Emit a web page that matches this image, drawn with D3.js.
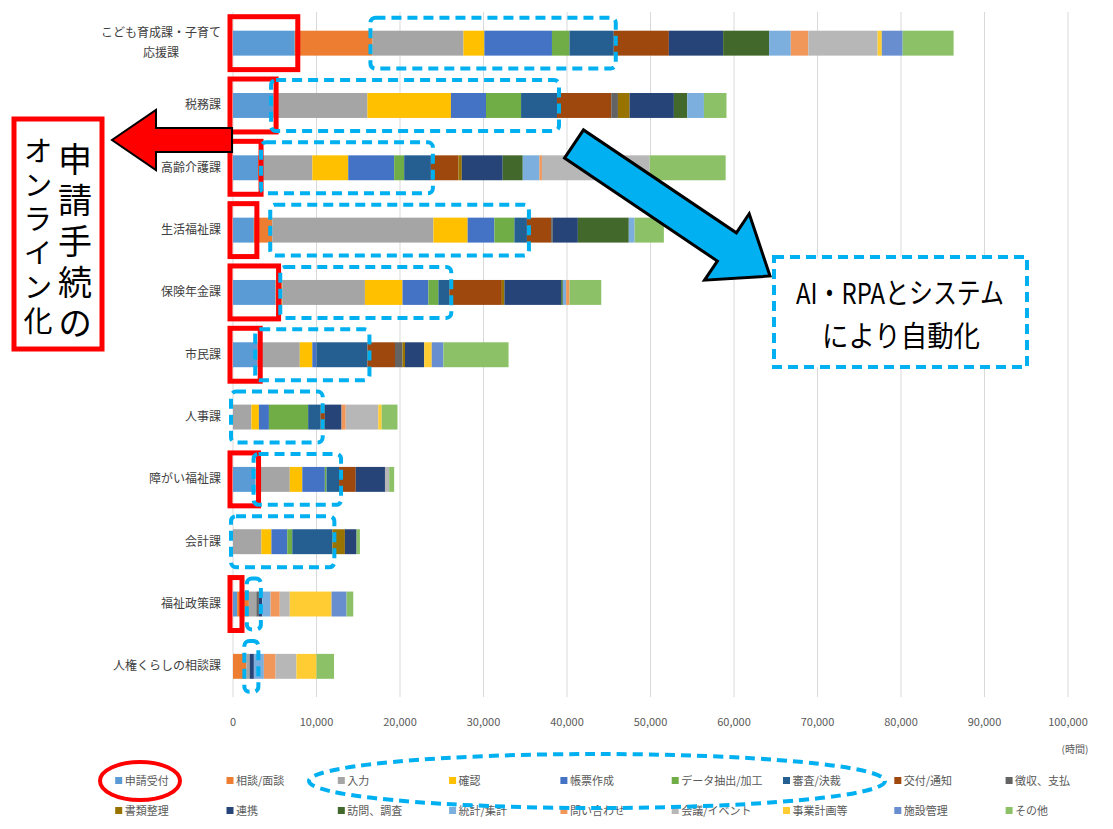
<!DOCTYPE html>
<html lang="ja">
  <head>
    <meta charset="UTF-8" />
    <title>業務時間</title>
    <script src="https://d3js.org/d3.v7.min.js"></script>
    <style>
      body { margin: 0; background: #fff; }
      text { font-family: "Noto Sans CJK JP", "Noto Sans", sans-serif; }
    </style>
  </head>
  <body>
    <svg width="1113" height="829"></svg>
    <script>
      // 課（上から順）
      var categories = ['こども育成課・子育て応援課', '税務課', '高齢介護課', '生活福祉課', '保険年金課', '市民課',
        '人事課', '障がい福祉課', '会計課', '福祉政策課', '人権くらしの相談課']

      var seriesNames = ['申請受付', '相談/面談', '入力', '確認', '帳票作成', 'データ抽出/加工', '審査/決裁', '交付/通知', '徴収、支払',
        '書類整理', '連携', '訪問、調査', '統計/集計', '問い合わせ', '会議/イベント', '事業計画等', '施設管理', 'その他']

      // 時間（各業務、課の順）
      var shinsei   = [7400, 4800, 3000, 2500, 5100, 2900, 0, 2700, 0, 500, 0]
      var soudan    = [9300, 0, 600, 2200, 800, 0, 0, 0, 0, 1400, 1600]
      var nyuryoku  = [10900, 11300, 5900, 19300, 9900, 5100, 2200, 4100, 3400, 900, 400]
      var kakunin   = [2500, 10000, 4300, 4100, 4500, 1500, 900, 1500, 1200, 0, 0]
      var chohyo    = [8100, 4200, 5500, 3200, 3100, 500, 1200, 2700, 1900, 0, 0]
      var data      = [2100, 4200, 1200, 2400, 1200, 0, 4700, 200, 600, 0, 0]
      var shinsa    = [5300, 4300, 3200, 1500, 1300, 6100, 1500, 1500, 4800, 0, 0]
      var kofu      = [6600, 6500, 3300, 2900, 6300, 3300, 500, 2000, 0, 0, 0]
      var choshu    = [0, 800, 0, 200, 0, 900, 0, 0, 0, 300, 0]
      var shorui    = [0, 1400, 400, 0, 300, 300, 0, 0, 1500, 0, 0]
      var renkei    = [6500, 5300, 4900, 3000, 6800, 2300, 2000, 3500, 1400, 400, 500]
      var homon     = [5500, 1600, 2400, 6100, 200, 0, 0, 0, 0, 0, 0]
      var tokei     = [2600, 2000, 2000, 700, 400, 0, 0, 0, 0, 1000, 1200]
      var toiawase  = [2100, 0, 300, 0, 400, 0, 500, 0, 0, 1100, 1400]
      var kaigi     = [8300, 0, 12900, 0, 0, 0, 3900, 500, 0, 1200, 2500]
      var jigyo     = [500, 0, 0, 0, 0, 900, 400, 0, 0, 5000, 2400]
      var shisetsu  = [2500, 0, 0, 0, 0, 1400, 0, 0, 0, 1800, 0]
      var sonota    = [6100, 2700, 9100, 3500, 3800, 7800, 1900, 600, 400, 800, 2100]

      var seriesValues = [shinsei, soudan, nyuryoku, kakunin, chohyo, data, shinsa, kofu, choshu,
        shorui, renkei, homon, tokei, toiawase, kaigi, jigyo, shisetsu, sonota]

      var xTicks = d3.range(0, 100001, 10000)

      var colors = ['#5B9BD5', '#ED7D31', '#A5A5A5', '#FFC000', '#4472C4', '#70AD47', '#255E91', '#9E480E', '#636363',
        '#997300', '#264478', '#43682B', '#7CAFDD', '#F1975A', '#B7B7B7', '#FFCD33', '#698ED0', '#8CC168']

      var svg = d3.select('svg')
      svg.append('rect').attr('width', 1113).attr('height', 829).attr('fill', '#fff')

      var x = d3.scaleLinear().domain([0, 100000]).range([233, 1068])
      var y = d3.scaleBand().domain(categories).range([12, 697.5]).paddingInner(0.6).paddingOuter(0.3)

      // 表を組み立てる
      var table = categories.map(function(c, i) {
        var row = { cat: c }
        seriesNames.forEach(function(s, j) { row[s] = seriesValues[j][i] })
        return row
      })
      var stacked = d3.stack().keys(seriesNames)(table)

      // グリッド線
      svg.append('g').selectAll('line').data(xTicks).enter().append('line')
        .attr('x1', function(d) { return x(d) }).attr('x2', function(d) { return x(d) })
        .attr('y1', 12).attr('y2', 697)
        .attr('stroke', '#d9d9d9').attr('stroke-width', 1)

      // 棒
      svg.append('g').selectAll('g').data(stacked).enter().append('g')
        .attr('fill', function(d, i) { return colors[i] })
        .selectAll('rect').data(function(d) { return d }).enter().append('rect')
        .attr('x', function(d) { return x(d[0]) })
        .attr('y', function(d) { return y(d.data.cat) })
        .attr('width', function(d) { return x(d[1]) - x(d[0]) })
        .attr('height', y.bandwidth())

      // x 軸ラベル
      svg.append('g').selectAll('text').data(xTicks).enter().append('text')
        .attr('x', function(d) { return x(d) }).attr('y', 726)
        .attr('text-anchor', 'middle').attr('font-size', 11).attr('fill', '#595959')
        .text(function(d) { return d3.format(',')(d) })
      svg.append('text').attr('x', 1075).attr('y', 753).attr('text-anchor', 'middle')
        .attr('font-size', 10).attr('fill', '#595959').text('(時間)')

      // カテゴリラベル
      var labG = svg.append('g').attr('font-size', 12).attr('fill', '#404040')
      categories.forEach(function(c, i) {
        var cy = y(c) + y.bandwidth() / 2
        if (i === 0) {
          var t1 = labG.append('text').attr('x', 221).attr('y', cy - 6).attr('text-anchor', 'end').text('こども育成課・子育て')
          var w = t1.node().getComputedTextLength()
          labG.append('text').attr('x', 221 - w / 2).attr('y', cy + 14).attr('text-anchor', 'middle').text('応援課')
        } else {
          labG.append('text').attr('x', 221).attr('y', cy + 4).attr('text-anchor', 'end').text(c)
        }
      })

      // 凡例
      var leg = svg.append('g').attr('font-size', 11).attr('fill', '#595959')
      seriesNames.forEach(function(s, i) {
        var lx = 118.7 + (i % 9) * 111.3
        var ly = i < 9 ? 781 : 811
        leg.append('rect').attr('x', lx - 3.5).attr('y', ly - 4).attr('width', 7).attr('height', 7).attr('fill', colors[i])
        leg.append('text').attr('x', lx + 6).attr('y', ly + 4).text(s)
      })

      // 注記：申請受付（赤枠）
      var ann = svg.append('g').attr('fill', 'none')
      categories.forEach(function(c, i) {
        var top = y(c) - 14
        var h = y.bandwidth() + 28
        if (shinsei[i] > 0) {
          var x0 = x(0) - 3
          var x1 = Math.max(x(shinsei[i]) + 3, x0 + 12)
          ann.append('rect').attr('x', x0).attr('y', top).attr('width', x1 - x0).attr('height', h)
            .attr('stroke', '#ff0000').attr('stroke-width', 5)
        }
        // 入力〜審査/決裁（青破線）
        var s0 = soudan[i] + shinsei[i]
        var s1 = s0 + nyuryoku[i] + kakunin[i] + chohyo[i] + data[i] + shinsa[i]
        var bx0 = x(s0) - 2
        var bx1 = Math.max(x(s1) + 2, bx0 + 14)
        ann.append('rect').attr('x', bx0).attr('y', top + 1).attr('width', bx1 - bx0).attr('height', h - 2)
          .attr('rx', 5).attr('stroke', '#00B0F0').attr('stroke-width', 4).attr('stroke-dasharray', '10,6')
      })

      // 赤矢印
      svg.append('polygon')
        .attr('points', '232,128 156,128 156,110 112,140 156,170 156,152 232,152')
        .attr('fill', '#ff0000').attr('stroke', '#000').attr('stroke-width', 2)

      // 申請手続のオンライン化（縦書き）
      svg.append('rect').attr('x', 14).attr('y', 119).attr('width', 88).attr('height', 230)
        .attr('fill', '#fff').attr('stroke', '#ff0000').attr('stroke-width', 5)
      svg.append('text').attr('x', 75).attr('y', 142).style('writing-mode', 'vertical-rl')
        .attr('font-size', 34).attr('letter-spacing', 7).attr('fill', '#000').text('申請手続の')
      svg.append('text').attr('x', 38).attr('y', 136).style('writing-mode', 'vertical-rl')
        .attr('font-size', 29).attr('letter-spacing', 5).attr('fill', '#000').text('オンライン化')

      // 青矢印
      var S = [574, 144], T = [770, 276]
      var dx = T[0] - S[0], dy = T[1] - S[1], len = Math.hypot(dx, dy)
      var ux = dx / len, uy = dy / len, nx = -uy, ny = ux
      var H = [T[0] - ux * 52, T[1] - uy * 52]
      var pts = [
        [S[0] + nx * 17, S[1] + ny * 17], [H[0] + nx * 17, H[1] + ny * 17], [H[0] + nx * 40, H[1] + ny * 40],
        T, [H[0] - nx * 40, H[1] - ny * 40], [H[0] - nx * 17, H[1] - ny * 17], [S[0] - nx * 17, S[1] - ny * 17]
      ]
      svg.append('polygon').attr('points', pts.map(function(p) { return p.join(',') }).join(' '))
        .attr('fill', '#00B0F0').attr('stroke', '#000').attr('stroke-width', 3)

      // AI・RPA 注記
      svg.append('rect').attr('x', 774).attr('y', 257).attr('width', 253).attr('height', 110)
        .attr('fill', '#fff').attr('stroke', '#00B0F0').attr('stroke-width', 4).attr('stroke-dasharray', '10,6')
      svg.append('text').attr('x', 900).attr('y', 304).attr('text-anchor', 'middle').attr('font-size', 29)
        .attr('textLength', 208).attr('lengthAdjust', 'spacingAndGlyphs')
        .attr('fill', '#000').text('AI・RPAとシステム')
      svg.append('text').attr('x', 901).attr('y', 347).attr('text-anchor', 'middle').attr('font-size', 29)
        .attr('textLength', 158).attr('lengthAdjust', 'spacingAndGlyphs')
        .attr('fill', '#000').text('により自動化')

      // 凡例の囲み
      svg.append('ellipse').attr('cx', 140).attr('cy', 781).attr('rx', 40).attr('ry', 19)
        .attr('fill', 'none').attr('stroke', '#ff0000').attr('stroke-width', 4)
      svg.append('ellipse').attr('cx', 597).attr('cy', 781).attr('rx', 288).attr('ry', 27)
        .attr('fill', 'none').attr('stroke', '#00B0F0').attr('stroke-width', 4).attr('stroke-dasharray', '10,6')
    </script>
  </body>
</html>
